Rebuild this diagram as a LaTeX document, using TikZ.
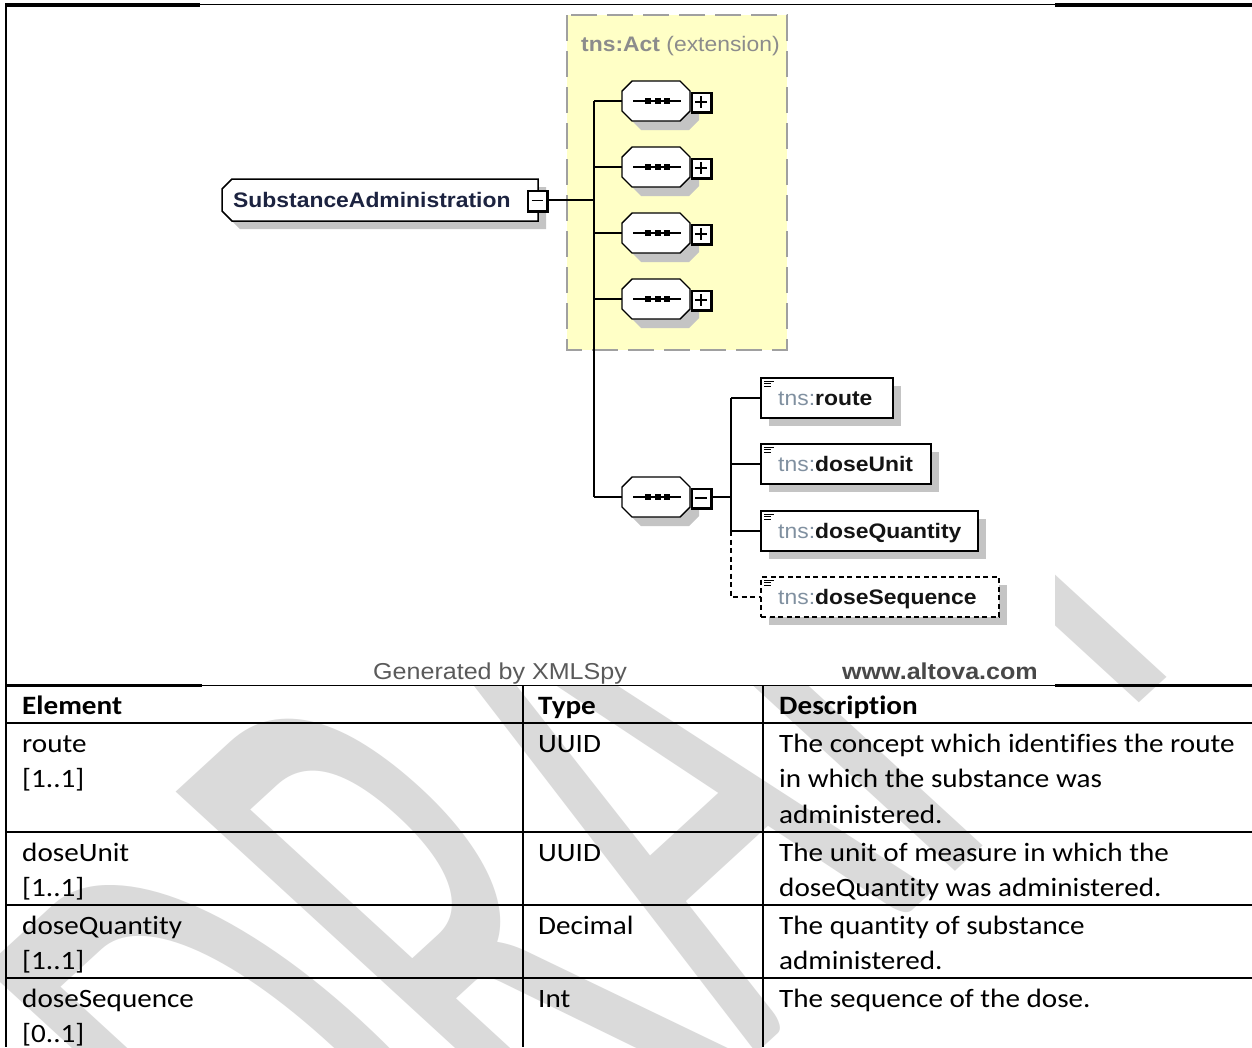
\documentclass[tikz,border=0pt]{standalone}
\usepackage{fontspec}
\setmainfont{Carlito}[Ligatures=NoCommon]
\newfontfamily\xsfont{Liberation Sans}
\usetikzlibrary{calc}

\definecolor{shadowgrey}{HTML}{C4C4C4}
\definecolor{actfill}{HTML}{FFFFC6}
\definecolor{actdash}{HTML}{A0A0A0}
\definecolor{actlabel}{HTML}{8C8C8C}
\definecolor{prefixgrey}{HTML}{8090A0}
\definecolor{satext}{HTML}{1C2340}
\definecolor{nametext}{HTML}{141414}
\definecolor{footgrey}{HTML}{5A5A5A}
\definecolor{wmgrey}{HTML}{DADADA}

% sequence compositor drawn around (0,0); the caller shifts it
\newcommand\xsSeqShape{%
  \fill[shadowgrey] (631,-1) -- (641,-11) -- (689,-11) -- (699,-1) -- (699,19) -- (689,29) -- (641,29) -- (631,19) -- cycle;
  \draw[line width=1.4pt, fill=white] (622,-10) -- (632,-20) -- (680,-20) -- (690,-10) -- (690,10) -- (680,20) -- (632,20) -- (622,10) -- cycle;
  \draw[line width=1.6pt] (633,0) -- (681,0);
  \fill (645,-3) rectangle (651,3);
  \fill (655,-3) rectangle (661,3);
  \fill (664,-3) rectangle (670,3);
  \fill (690.5,-9.5) rectangle (713,13);
  \fill[white] (692.5,-7.5) rectangle (709.5,9.5);
  \draw[line width=1.5pt] (695,1) -- (707,1);
}
% small "element" glyph in the top left corner of an element box
\newcommand\xsElemIcon[1]{%
  \draw[line width=1pt] (764,#1+3) -- (774,#1+3);
  \draw[line width=1pt] (764,#1+5.7) -- (771,#1+5.7);
  \draw[line width=1pt] (764,#1+8.4) -- (771,#1+8.4);
}

\begin{document}
\begin{tikzpicture}[x=1pt,y=-1pt,
  conn/.style={line width=1.6pt, black},
  optconn/.style={conn, dash pattern=on 5pt off 3.5pt},
  elembox/.style={draw=black, fill=white, line width=1.6pt, minimum height=40pt,
    anchor=north west, inner sep=0pt, outer sep=0pt},
  xsp/.style={font=\xsfont\fontsize{21}{25}\selectfont, xscale=1.09, inner sep=0pt, anchor=base west},
  foot/.style={font=\xsfont\fontsize{23}{26}\selectfont, xscale=1.09, inner sep=0pt, anchor=base west},
  cell/.style={font=\fontsize{26.5}{32}\selectfont, xscale=1.1, inner sep=0pt, anchor=base west},
  headcell/.style={cell, font=\fontsize{26.5}{32}\selectfont\bfseries},
  rowline/.style={line width=2pt, black},
]
\useasboundingbox (0,0) rectangle (1252,1047);
\fill[white] (0,0) rectangle (1252,1047);

% watermark
\begin{scope}
  \clip (0,0) rectangle (1252,1047);
  \node[xscale=1.09, rotate=45, xscale=1.15, yscale=2.5, text=wmgrey, font=\fontsize{350}{350}\selectfont, inner sep=0pt] (wm) at (596,804) {DRAFT};
\end{scope}

% picture area of the schema diagram
\fill[white] (200,5.4) rectangle (1055,684.6);

% table frame
\draw[line width=3.2pt] (6,5) -- (200,5);
\draw[line width=3.2pt] (1055,5) -- (1252,5);
\draw[line width=1.4pt] (200,4.7) -- (1055,4.7);
\draw[line width=2.3pt] (6.2,3.4) -- (6.2,1047);
\draw[line width=2.6pt] (6,685.2) -- (202,685.2);
\draw[line width=2.6pt] (1055,685.2) -- (1252,685.2);
\draw[line width=1.4pt] (202,685.6) -- (1055,685.6);
\draw[rowline] (6,723) -- (1252,723);
\draw[rowline] (6,832) -- (1252,832);
\draw[rowline] (6,905) -- (1252,905);
\draw[rowline] (6,978) -- (1252,978);
\draw[rowline] (523,685) -- (523,1047);
\draw[rowline] (763,685) -- (763,1047);

% table text
\node[headcell] (hElem) at (22,714) {Element};
\node[headcell] (hType) at (538,714) {Type};
\node[headcell] (hDesc) at (779,714) {Description};

\node[cell] (r1a) at (22,752) {route};
\node[cell] (r1b) at (22,787.5) {[1..1]};
\node[cell] (r1t) at (538,752) {UUID};
\node[cell] (r1d1) at (779,752) {The concept which identifies the route};
\node[cell] (r1d2) at (779,787.5) {in which the substance was};
\node[cell] (r1d3) at (779,823) {administered.};

\node[cell] (r2a) at (22,861) {doseUnit};
\node[cell] (r2b) at (22,896.5) {[1..1]};
\node[cell] (r2t) at (538,861) {UUID};
\node[cell] (r2d1) at (779,861) {The unit of measure in which the};
\node[cell] (r2d2) at (779,896.5) {doseQuantity was administered.};

\node[cell] (r3a) at (22,934) {doseQuantity};
\node[cell] (r3b) at (22,969.5) {[1..1]};
\node[cell] (r3t) at (538,934) {Decimal};
\node[cell] (r3d1) at (779,934) {The quantity of substance};
\node[cell] (r3d2) at (779,969.5) {administered.};

\node[cell] (r4a) at (22,1007) {doseSequence};
\node[cell] (r4b) at (22,1042.5) {[0..1]};
\node[cell] (r4t) at (538,1007) {Int};
\node[cell] (r4d1) at (779,1007) {The sequence of the dose.};

% tns:Act extension area
\draw[actdash, fill=actfill, line width=2.4pt, dash pattern=on 26pt off 10pt] (567,15) rectangle (787,350);
\node[xsp, text=actlabel] (actlabel) at (581,51.5) {\textbf{tns:Act} (extension)};

% SubstanceAdministration element
\fill[shadowgrey] (230,187) -- (240,187) -- (546,187) -- (546,229) -- (240,229) -- (230,219) -- cycle;
\draw[line width=1.5pt, fill=white] (222,189) -- (232,179) -- (538,179) -- (538,221) -- (232,221) -- (222,211) -- cycle;
\node[xsp, text=satext] (sa) at (233,207.5) {\textbf{SubstanceAdministration}};
\fill (527,189.5) rectangle (549,213);
\fill[white] (529,191.5) rectangle (545.5,209.5);
\draw[line width=1.5pt] (531.5,200.5) -- (543,200.5);
\coordinate (saout) at (549,200);
\coordinate (tkSA) at (594,200);

% trunk of the sequence
\coordinate (trunktop) at (594,101);
\coordinate (trunkbot) at (594,497);
\draw[conn] (trunktop) -- (trunkbot);
\draw[conn] (saout) -- (tkSA);

% compositors inside the extension
\foreach \i/\y in {1/101, 2/167, 3/233, 4/299} {
  \begin{scope}[shift={(0,\y)}]
    \xsSeqShape
    \draw[line width=1.5pt] (701,-5) -- (701,7);
  \end{scope}
  \coordinate (tk\i) at (594,\y);
  \coordinate (seq\i) at (622,\y);
  \draw[conn] (tk\i) -- (seq\i);
}

% local sequence
\begin{scope}[shift={(0,497)}]
  \xsSeqShape
\end{scope}
\coordinate (seq5) at (622,497);
\draw[conn] (trunkbot) -- (seq5);
\coordinate (seqout) at (713,497);
\coordinate (brmid) at (731,497);
\draw[conn] (seqout) -- (brmid);

% child elements
\fill[shadowgrey] (769,386) rectangle (901,426);
\fill[shadowgrey] (769,452) rectangle (939,492);
\fill[shadowgrey] (769,519) rectangle (986,559);
\fill[shadowgrey] (769,585) rectangle (1007,625);

\node[elembox, minimum width=132pt] (route) at (761,378) {};
\node[elembox, minimum width=170pt] (doseUnit) at (761,444) {};
\node[elembox, minimum width=217pt] (doseQuantity) at (761,511) {};
\node[elembox, minimum width=238pt, dash pattern=on 5pt off 3.5pt] (doseSequence) at (761,577) {};

\xsElemIcon{378}
\xsElemIcon{444}
\xsElemIcon{511}
\xsElemIcon{577}

\node[xsp] (routeLbl) at (778,405.5) {\textcolor{prefixgrey}{tns:}\textcolor{nametext}{\textbf{route}}};
\node[xsp] (doseUnitLbl) at (778,471.5) {\textcolor{prefixgrey}{tns:}\textcolor{nametext}{\textbf{doseUnit}}};
\node[xsp] (doseQuantityLbl) at (778,538.5) {\textcolor{prefixgrey}{tns:}\textcolor{nametext}{\textbf{doseQuantity}}};
\node[xsp] (doseSequenceLbl) at (778,604.5) {\textcolor{prefixgrey}{tns:}\textcolor{nametext}{\textbf{doseSequence}}};

\coordinate (brtop) at (731,398);
\coordinate (brdu) at (731,464);
\coordinate (brdq) at (731,531);
\coordinate (brds) at (731,597);
\draw[conn] (brtop) -- (brdq);
\draw[conn] (brtop) -- (route.west);
\draw[conn] (brdu) -- (doseUnit.west);
\draw[conn] (brdq) -- (doseQuantity.west);
\draw[optconn] (brdq) -- (brds) -- (doseSequence.west);

% footer of the diagram
\node[foot, text=footgrey] (gen) at (373,679) {Generated by XMLSpy};
\node[foot, text=footgrey!80!black, font=\xsfont\fontsize{23}{26}\selectfont\bfseries] (alt) at (842,679) {www.altova.com};
\end{tikzpicture}
\end{document}
